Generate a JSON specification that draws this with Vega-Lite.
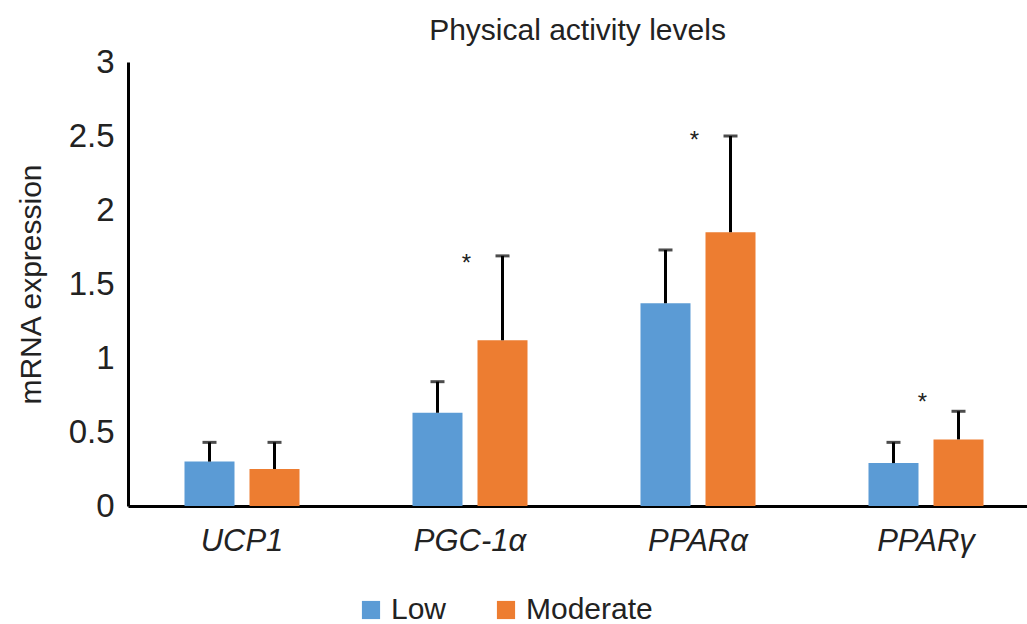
{
  "$schema": "https://vega.github.io/schema/vega-lite/v6.json",
  "autosize": "none",
  "width": 899,
  "height": 444,
  "padding": {"left": 128, "top": 62, "right": 0, "bottom": 118},
  "background": "white",
  "title": {"text": "Physical activity levels", "fontSize": 30, "font": "Liberation Sans", "fontWeight": "normal", "color": "#222222", "offset": 0, "anchor": "middle", "frame": "group"},
  "config": {"view": {"stroke": null}, "axis": {"grid": false, "labelFont": "Liberation Sans", "titleFont": "Liberation Sans"}},
  "datasets": {
    "bars": [
      {"gene": "UCP1", "group": "Low", "value": 0.30, "err": 0.43},
      {"gene": "UCP1", "group": "Moderate", "value": 0.25, "err": 0.43},
      {"gene": "PGC-1α", "group": "Low", "value": 0.63, "err": 0.84},
      {"gene": "PGC-1α", "group": "Moderate", "value": 1.12, "err": 1.69},
      {"gene": "PPARα", "group": "Low", "value": 1.37, "err": 1.73},
      {"gene": "PPARα", "group": "Moderate", "value": 1.85, "err": 2.50},
      {"gene": "PPARγ", "group": "Low", "value": 0.29, "err": 0.43},
      {"gene": "PPARγ", "group": "Moderate", "value": 0.45, "err": 0.64}
    ],
    "stars": [
      {"gene": "PGC-1α", "group": "Low", "y": 1.67, "label": "*"},
      {"gene": "PPARα", "group": "Low", "y": 2.50, "label": "*"},
      {"gene": "PPARγ", "group": "Low", "y": 0.73, "label": "*"}
    ]
  },
  "encoding": {
    "x": {
      "field": "gene", "type": "nominal", "sort": ["UCP1", "PGC-1α", "PPARα", "PPARγ"],
      "scale": {"paddingInner": 0, "paddingOuter": 0, "range": [0, 912]},
      "axis": {"title": null, "labelAngle": 0, "ticks": false, "domainColor": "black", "domainWidth": 3, "labelFontSize": 31, "labelFontStyle": "italic", "labelColor": "#222222", "labelPadding": 20}
    },
    "xOffset": {"field": "group", "type": "nominal", "scale": {"paddingInner": 0.2308, "paddingOuter": 0.869}}
  },
  "layer": [
    {
      "data": {"name": "bars"},
      "mark": {"type": "bar"},
      "encoding": {
        "y": {
          "field": "value", "type": "quantitative",
          "scale": {"domain": [0, 3], "nice": false},
          "axis": {"title": "mRNA expression", "values": [0, 0.5, 1, 1.5, 2, 2.5, 3], "format": "~g", "ticks": false, "domainColor": "black", "domainWidth": 3, "labelFontSize": 33, "labelColor": "#222222", "labelPadding": 14, "titleFontSize": 30, "titleFontWeight": "normal", "titleColor": "#222222", "titlePadding": 22}
        },
        "color": {
          "field": "group", "type": "nominal",
          "scale": {"domain": ["Low", "Moderate"], "range": ["#5B9BD5", "#ED7D31"]},
          "legend": {"title": null, "orient": "none", "direction": "horizontal", "legendX": 228, "legendY": 533, "symbolType": "square", "symbolSize": 330, "symbolStrokeWidth": 0, "labelFontSize": 30, "labelFont": "Liberation Sans", "labelColor": "#222222", "labelOffset": 5, "columnPadding": 44}
        }
      }
    },
    {
      "data": {"name": "bars"},
      "mark": {"type": "rule", "color": "black", "strokeWidth": 3},
      "encoding": {
        "y": {"field": "value", "type": "quantitative"},
        "y2": {"field": "err"}
      }
    },
    {
      "data": {"name": "bars"},
      "mark": {"type": "tick", "color": "black", "thickness": 3, "size": 14, "orient": "horizontal"},
      "encoding": {
        "y": {"field": "err", "type": "quantitative"}
      }
    },
    {
      "data": {"name": "stars"},
      "mark": {"type": "text", "fontSize": 24, "font": "Liberation Sans", "color": "#222222", "dx": 29, "baseline": "middle", "dy": 5},
      "encoding": {
        "y": {"field": "y", "type": "quantitative"},
        "text": {"field": "label"}
      }
    }
  ]
}
